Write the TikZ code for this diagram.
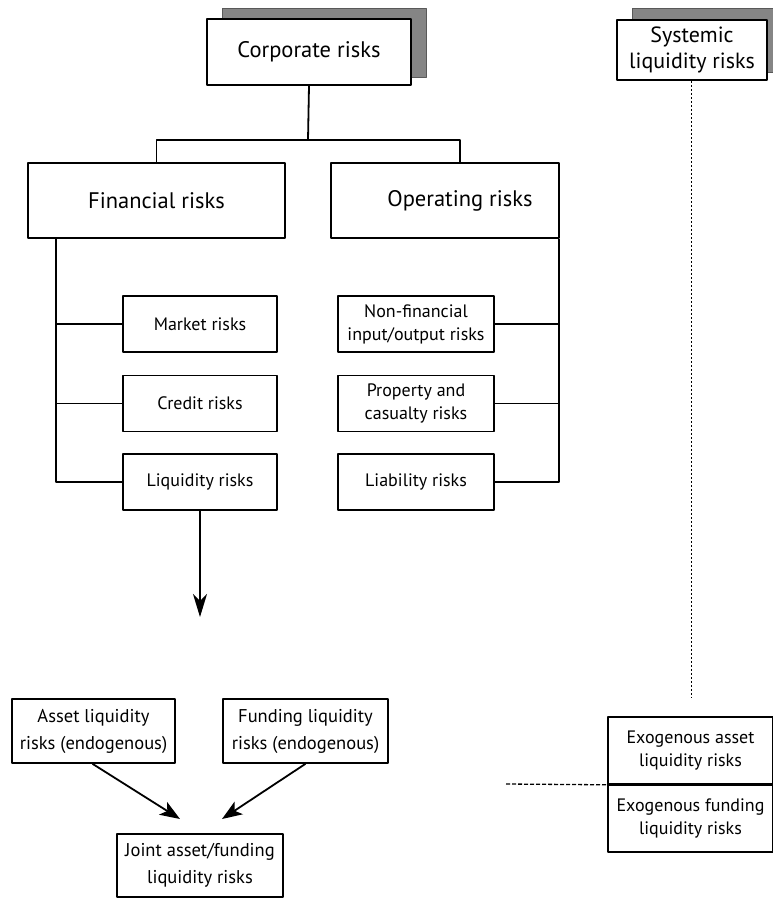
\documentclass[tikz,border=0pt]{standalone}
\usepackage{fontspec}
\setmainfont{PT Sans}
\usetikzlibrary{arrows.meta}
\begin{document}
\begin{tikzpicture}[x=1pt, y=-1pt, line join=round, >={Stealth[length=23pt,width=14pt,inset=7pt]},
		box/.style={draw, line width=1.6pt, fill=white, align=center, inner sep=0pt, font=\fontsize{18}{23}\selectfont},
		lowbox/.style={box, font=\fontsize{18.5}{27}\selectfont},
		bigbox/.style={box, font=\fontsize{22.5}{26}\selectfont},
		sysbox/.style={box, font=\fontsize{22}{26}\selectfont},
		shade/.style={fill=black!48, draw=black!65, line width=1pt},
		link/.style={line width=1.8pt}]
	\useasboundingbox (0,0) rectangle (773,903);
	\def\wl{154} \def\wr{156} \def\hs{56}
	% shadows first
	\draw[shade] (222,8) rectangle (426,77);
	\draw[shade] (632,8) rectangle (780,72);
	\node[bigbox, minimum width=204, minimum height=66] (corp) at (309,52) {Corporate risks};
	\node[sysbox, minimum width=150, minimum height=60] (sys) at (692,50) {Systemic\\liquidity risks};
	\node[bigbox, minimum width=257, minimum height=75] (fin) at (156.5,200.5) {Financial risks};
	\node[bigbox, minimum width=228, minimum height=75] (ope) at (445,200.5) {\hspace*{30pt}Operating risks};
	\node[box, minimum width=\wl, minimum height=\hs] (mkt) at (200,324) {Market risks};
	\node[box, minimum width=\wl, minimum height=\hs] (cre) at (200,403.5) {Credit risks};
	\node[box, minimum width=\wl, minimum height=\hs] (liq) at (200,482) {Liquidity risks};
	\node[box, minimum width=\wr, minimum height=\hs] (nfi) at (416,324) {Non-financial\\input/output risks};
	\node[box, minimum width=\wr, minimum height=\hs] (pro) at (416,403.5) {Property and\\casualty risks};
	\node[box, minimum width=\wr, minimum height=\hs] (lia) at (416,482) {Liability risks};
	\node[lowbox, minimum width=163, minimum height=64] (ast) at (93.5,731) {Asset liquidity\\risks (endogenous)};
	\node[lowbox, minimum width=165, minimum height=64] (fun) at (305.5,731) {Funding liquidity\\risks (endogenous)};
	\node[lowbox, minimum width=166, minimum height=63] (joi) at (200,865.5) {Joint asset/funding\\liquidity risks};
	\node[box, minimum width=165, minimum height=67] (exa) at (690.5,750.5) {Exogenous asset\\liquidity risks};
	\node[box, minimum width=165, minimum height=68] (exf) at (690.5,818) {Exogenous funding\\liquidity risks};
	\draw[line width=3pt] (exa.south west) -- (exa.south east);
	% tree
	\coordinate (jt) at (308,140);
	\coordinate (fl) at ([xshift=29]fin.south west);
	\coordinate (fr) at ([xshift=-1]ope.south east);
	\draw[link] (corp.south) -- (jt);
	\draw[link] (fin.north) |- (jt) -| ([xshift=15]ope.north);
	\draw[link] (fl) |- (liq.west);
	\foreach \n in {mkt,cre}
	\draw[link] (\n.west) -- (\n.west -| fl);
	\draw[link] (fr) |- (lia.east);
	\foreach \n in {nfi,pro}
	\draw[link] (\n.east) -- (\n.east -| fr);
	% arrows
	\coordinate (ah) at (200,617);
	\coordinate (al) at (180,819);
	\coordinate (ar) at (222,819);
	\draw[line width=1.5pt,->] (liq.south) -- (ah);
	\draw[link,->,>={Stealth[length=20pt,width=15pt,inset=5pt]}] ([xshift=-1]ast.south) -- (al);
	\draw[link,->,>={Stealth[length=20pt,width=15pt,inset=5pt]}] (fun.south) -- (ar);
	% systemic links
	\coordinate (sd) at (691,697);
	\coordinate (ed) at (506,784);
	\draw[line width=1pt, dash pattern=on 2pt off 2pt] ([xshift=-1]sys.south) -- (sd);
	\draw[line width=1.3pt, dash pattern=on 4pt off 2pt] (ed) -- (exa.south west);
\end{tikzpicture}
\end{document}
